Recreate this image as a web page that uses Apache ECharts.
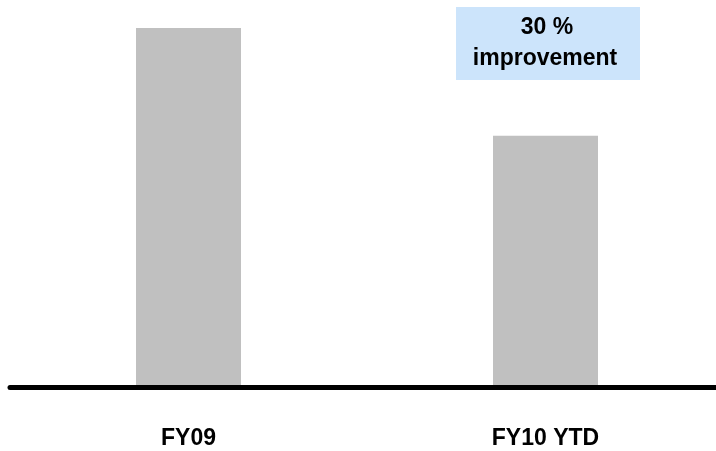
<!DOCTYPE html>
<html>
<head>
<meta charset="utf-8">
<script src="https://cdn.jsdelivr.net/npm/echarts@6/dist/echarts.min.js"></script>
<style>
  html, body { margin: 0; padding: 0; background: #fff; overflow: hidden; }
  #chart { width: 724px; height: 451px; }
</style>
</head>
<body>
<div id="chart"></div>
<script>
// Indexed values per period (FY09 = 100)
const categories = ['FY09', 'FY10 YTD'];
const values = [100, 70];

const improvement = Math.round((1 - values[1] / values[0]) * 100);

const chart = echarts.init(document.getElementById('chart'), null, { renderer: 'canvas' });

const font = '"Liberation Sans", Arial, sans-serif';

chart.setOption({
  animation: false,
  grid: { left: 10, right: 0, top: 28, bottom: 64 },
  xAxis: {
    type: 'category',
    data: categories,
    offset: 2.5,
    z: 5,
    axisLine: { show: true, lineStyle: { color: '#000', width: 5 } },
    axisTick: { show: false },
    axisLabel: {
      margin: 38,
      color: '#000',
      fontFamily: font,
      fontWeight: 'bold',
      fontSize: 23
    }
  },
  yAxis: {
    type: 'value',
    min: 0,
    max: 100,
    show: false,
    splitLine: { show: false }
  },
  series: [{
    type: 'bar',
    data: values,
    barWidth: 105,
    itemStyle: { color: '#c0c0c0' }
  }],
  graphic: [{
    type: 'group',
    left: 456,
    top: 7,
    children: [
      {
        type: 'rect',
        shape: { x: 0, y: 0, width: 184, height: 73 },
        style: { fill: '#cce4fb' }
      },
      {
        type: 'text',
        x: 91,
        y: 21,
        style: {
          text: improvement + ' %',
          fill: '#000',
          font: 'bold 23px ' + font,
          align: 'center',
          verticalAlign: 'middle'
        }
      },
      {
        type: 'text',
        x: 89,
        y: 52,
        style: {
          text: 'improvement',
          fill: '#000',
          font: 'bold 23px ' + font,
          align: 'center',
          verticalAlign: 'middle'
        }
      }
    ]
  }]
});
</script>
</body>
</html>
